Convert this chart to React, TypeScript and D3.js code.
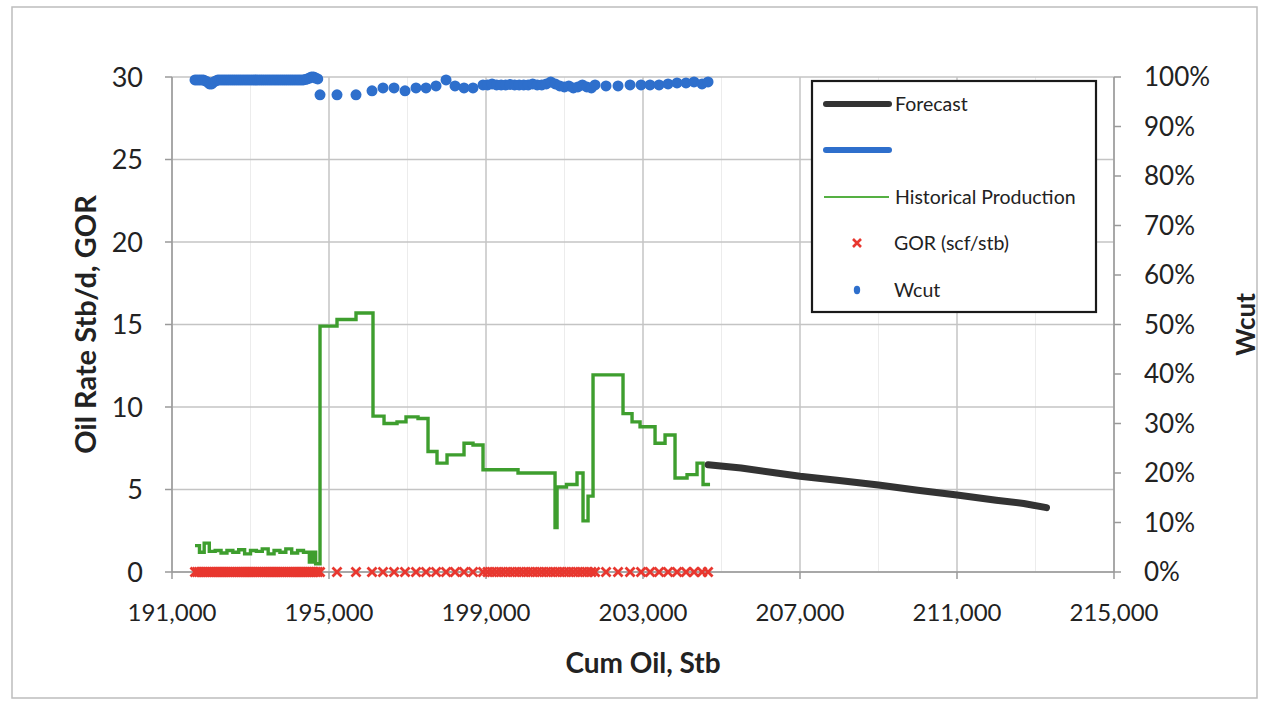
import React from "react";
import * as d3 from "d3";

// ---------- data ----------
const xTicks = [191000, 195000, 199000, 203000, 207000, 211000, 215000];
const yTicks = [0, 5, 10, 15, 20, 25, 30];
const y2Ticks = [0, 0.1, 0.2, 0.3, 0.4, 0.5, 0.6, 0.7, 0.8, 0.9, 1.0];

// Historical production (step line)
const histCum = [
  191586, 191700, 191820, 191950, 192100, 192250, 192400, 192550, 192700, 192850,
  193000, 193150, 193300, 193450, 193600, 193750, 193900, 194050, 194200, 194350,
  194500, 194580, 194660, 194771, 195204, 195688, 196121, 196402, 196733, 196962,
  197268, 197523, 197752, 198007, 198440, 198669, 198924, 199816, 200759, 200810,
  201050, 201319, 201472, 201600, 201727, 202491, 202721, 202925, 203307, 203562,
  203816, 204122, 204377, 204530, 204708,
];
const histRate = [
  1.6, 1.2, 1.75, 1.25, 1.3, 1.15, 1.3, 1.2, 1.35, 1.1,
  1.3, 1.25, 1.4, 1.1, 1.3, 1.2, 1.4, 1.15, 1.3, 1.2,
  0.6, 1.2, 0.5, 14.9, 15.3, 15.7, 9.45, 9.0, 9.1, 9.4,
  9.3, 7.3, 6.6, 7.1, 7.8, 7.7, 6.2, 6.0, 2.7, 5.15,
  5.3, 6.0, 3.1, 4.6, 11.95, 9.6, 9.1, 8.8, 7.8, 8.3,
  5.7, 5.9, 6.6, 5.3, 5.3,
];

// Forecast
const fcCum = [204660, 205500, 206400, 207000, 208000, 209000, 210000, 211000, 212000, 212700, 213280];
const fcRate = [6.5, 6.3, 6.0, 5.8, 5.55, 5.27, 4.95, 4.67, 4.35, 4.15, 3.9];

// Sample points for Wcut and GOR
const sampleCum = [
  191586, 191639, 191692, 191745, 191798, 191851, 191904, 191957, 192010, 192063,
  192116, 192169, 192222, 192275, 192328, 192381, 192434, 192487, 192540, 192593,
  192646, 192699, 192752, 192805, 192858, 192911, 192964, 193017, 193070, 193123,
  193176, 193229, 193282, 193335, 193388, 193441, 193494, 193547, 193600, 193653,
  193706, 193759, 193812, 193865, 193918, 193971, 194024, 194077, 194130, 194183,
  194236, 194289, 194342, 194395, 194448, 194501, 194554, 194607, 194660, 194713,
  194771, 195204, 195688, 196096, 196376, 196657, 196937, 197217, 197472, 197727,
  197982, 198211, 198440, 198669,
  198924, 199040, 199155, 199270, 199385, 199500, 199615, 199730, 199845, 199960,
  200075, 200190, 200305, 200420, 200535, 200650, 200765, 200880, 200995, 201110,
  201225, 201340, 201455, 201570, 201685, 201778,
  202058, 202364, 202670, 202950, 203179, 203409, 203638, 203867, 204096, 204300,
  204504, 204657,
];
const wcut = [
  0.994, 0.994, 0.994, 0.994, 0.994, 0.992, 0.99, 0.986, 0.986, 0.99,
  0.992, 0.994, 0.994, 0.994, 0.994, 0.994, 0.994, 0.994, 0.994, 0.994,
  0.994, 0.994, 0.994, 0.994, 0.994, 0.994, 0.994, 0.994, 0.994, 0.994,
  0.994, 0.994, 0.994, 0.994, 0.994, 0.994, 0.994, 0.994, 0.994, 0.994,
  0.994, 0.994, 0.994, 0.994, 0.994, 0.994, 0.994, 0.994, 0.994, 0.994,
  0.994, 0.994, 0.994, 0.995, 0.996, 0.998, 1.0, 1.0, 0.998, 0.996,
  0.964, 0.964, 0.964, 0.972, 0.978, 0.978, 0.972, 0.978, 0.978, 0.982,
  0.994, 0.982, 0.978, 0.978,
  0.984, 0.984, 0.986, 0.984, 0.984, 0.984, 0.985, 0.984, 0.984, 0.984,
  0.984, 0.986, 0.984, 0.984, 0.986, 0.99, 0.986, 0.982, 0.98, 0.982,
  0.978, 0.98, 0.984, 0.98, 0.978, 0.984,
  0.982, 0.982, 0.984, 0.984, 0.984, 0.984, 0.986, 0.988, 0.988, 0.99,
  0.986, 0.99,
];
const gor = [
  0, 0, 0, 0, 0, 0, 0, 0, 0, 0,
  0, 0, 0, 0, 0, 0, 0, 0, 0, 0,
  0, 0, 0, 0, 0, 0, 0, 0, 0, 0,
  0, 0, 0, 0, 0, 0, 0, 0, 0, 0,
  0, 0, 0, 0, 0, 0, 0, 0, 0, 0,
  0, 0, 0, 0, 0, 0, 0, 0, 0, 0,
  0, 0, 0, 0, 0, 0, 0, 0, 0, 0,
  0, 0, 0, 0,
  0, 0, 0, 0, 0, 0, 0, 0, 0, 0,
  0, 0, 0, 0, 0, 0, 0, 0, 0, 0,
  0, 0, 0, 0, 0, 0,
  0, 0, 0, 0, 0, 0, 0, 0, 0, 0,
  0, 0,
];

const legendItems = ["Forecast", "", "Historical Production", "GOR (scf/stb)", "Wcut"];

// ---------- styles ----------
const W = 1263, H = 704;
const M = { left: 172, right: 1114, top: 77, bottom: 572 };
const FONT = "Lato, 'Open Sans', sans-serif";
const GREEN = "#3e9e2e";
const BLUE = "#2e6fcc";
const RED = "#e8372f";
const DARK = "#333333";
const TXT = "#222222";

export default function App() {
  const x = d3.scaleLinear().domain([191000, 215000]).range([M.left, M.right]);
  const y = d3.scaleLinear().domain([0, 30]).range([M.bottom, M.top]);
  const y2 = d3.scaleLinear().domain([0, 1]).range([M.bottom, M.top]);

  const histPts: [number, number][] = histCum.map((c, i) => [c, histRate[i]]);
  const fcPts: [number, number][] = fcCum.map((c, i) => [c, fcRate[i]]);

  const stepLine = d3
    .line<[number, number]>()
    .x((d) => x(d[0]))
    .y((d) => y(d[1]))
    .curve(d3.curveStepAfter);
  const fcLine = d3
    .line<[number, number]>()
    .x((d) => x(d[0]))
    .y((d) => y(d[1]));

  const minorX = d3.range(193000, 215000, 4000);

  const lg = { x: 812, y: 81, w: 284, h: 231 };
  const rowY = [104, 150, 197, 243, 290];
  const n = Math.min(sampleCum.length, wcut.length, gor.length);
  const idx = d3.range(n);

  return (
    <svg
      width={W}
      height={H}
      style={{ position: "absolute", left: 0, top: 0, background: "#fff" }}
      fontFamily={FONT}
    >
      <rect x={0} y={0} width={W} height={H} fill="#fff" />
      <rect x={12} y={7} width={1245} height={691} fill="none" stroke="#bdbdbd" strokeWidth={1.5} />

      {/* minor vertical grid */}
      {minorX.map((v) => (
        <line key={"mx" + v} x1={x(v)} x2={x(v)} y1={M.top} y2={M.bottom} stroke="#ececec" strokeWidth={1} />
      ))}
      {/* major grid */}
      {yTicks.map((v) => (
        <line key={"gy" + v} x1={M.left} x2={M.right} y1={y(v)} y2={y(v)} stroke="#c4c4c4" strokeWidth={1.5} />
      ))}
      {xTicks.map((v) => (
        <line key={"gx" + v} x1={x(v)} x2={x(v)} y1={M.top} y2={M.bottom} stroke="#c4c4c4" strokeWidth={1.5} />
      ))}

      {/* axes */}
      <line x1={M.left} x2={M.left} y1={M.top} y2={M.bottom} stroke="#9a9a9a" strokeWidth={1.5} />
      <line x1={M.right} x2={M.right} y1={M.top} y2={M.bottom} stroke="#9a9a9a" strokeWidth={1.5} />
      <line x1={M.left} x2={M.right} y1={M.bottom} y2={M.bottom} stroke="#9a9a9a" strokeWidth={1.5} />
      {yTicks.map((v) => (
        <line key={"ty" + v} x1={M.left - 7} x2={M.left} y1={y(v)} y2={y(v)} stroke="#9a9a9a" strokeWidth={1.5} />
      ))}
      {y2Ticks.map((v) => (
        <line key={"ty2" + v} x1={M.right} x2={M.right + 7} y1={y2(v)} y2={y2(v)} stroke="#9a9a9a" strokeWidth={1.5} />
      ))}
      {xTicks.map((v) => (
        <line key={"tx" + v} x1={x(v)} x2={x(v)} y1={M.bottom} y2={M.bottom + 7} stroke="#9a9a9a" strokeWidth={1.5} />
      ))}

      {/* tick labels */}
      {yTicks.map((v) => (
        <text key={"ly" + v} x={143} y={y(v)} dy="0.36em" textAnchor="end" fontSize={27} fill={TXT}>
          {v}
        </text>
      ))}
      {y2Ticks.map((v) => (
        <text key={"ly2" + v} x={1144} y={y2(v)} dy="0.36em" textAnchor="start" fontSize={26} fill={TXT}>
          {d3.format(".0%")(v)}
        </text>
      ))}
      {xTicks.map((v) => (
        <text key={"lx" + v} x={x(v)} y={621} textAnchor="middle" fontSize={24} fill={TXT}>
          {d3.format(",")(v)}
        </text>
      ))}

      {/* axis titles */}
      <text x={(M.left + M.right) / 2} y={673} textAnchor="middle" fontSize={28} fontWeight="bold" fill={TXT}>
        Cum Oil, Stb
      </text>
      <text
        transform={`translate(96, ${(M.top + M.bottom) / 2}) rotate(-90)`}
        textAnchor="middle"
        fontSize={29}
        fontWeight="bold"
        fill={TXT}
      >
        Oil Rate Stb/d, GOR
      </text>
      <text
        transform={`translate(1255, ${(M.top + M.bottom) / 2}) rotate(-90)`}
        textAnchor="middle"
        fontSize={26}
        fontWeight="bold"
        fill={TXT}
      >
        Wcut
      </text>

      {/* GOR markers */}
      {idx.map((i) => (
        <path
          key={"g" + i}
          transform={`translate(${x(sampleCum[i])}, ${y(gor[i])})`}
          d="M-4.5,-4.5L4.5,4.5M-4.5,4.5L4.5,-4.5"
          stroke={RED}
          strokeWidth={2.8}
          fill="none"
        />
      ))}

      {/* Historical production */}
      <path d={stepLine(histPts) || ""} fill="none" stroke={GREEN} strokeWidth={3.4} strokeLinejoin="miter" />

      {/* Forecast */}
      <path d={fcLine(fcPts) || ""} fill="none" stroke={DARK} strokeWidth={7} strokeLinecap="round" strokeLinejoin="round" />

      {/* Wcut markers */}
      {idx.map((i) => (
        <circle key={"w" + i} cx={x(sampleCum[i])} cy={y2(wcut[i])} r={5.5} fill={BLUE} />
      ))}

      {/* legend */}
      <rect x={lg.x} y={lg.y} width={lg.w} height={lg.h} fill="#fff" stroke="#1a1a1a" strokeWidth={2.2} />
      <line x1={826} x2={889} y1={rowY[0]} y2={rowY[0]} stroke={DARK} strokeWidth={6} strokeLinecap="round" />
      <line x1={826} x2={889} y1={rowY[1]} y2={rowY[1]} stroke={BLUE} strokeWidth={6} strokeLinecap="round" />
      <line x1={824} x2={889} y1={rowY[2]} y2={rowY[2]} stroke="#55b043" strokeWidth={2.2} />
      <path
        transform={`translate(857, ${rowY[3]})`}
        d="M-4,-4L4,4M-4,4L4,-4"
        stroke={RED}
        strokeWidth={2.6}
        fill="none"
      />
      <ellipse cx={857} cy={rowY[4]} rx={3.2} ry={4.2} fill={BLUE} />
      {legendItems.map((t, i) =>
        t ? (
          <text key={"lt" + i} x={i < 3 ? 895 : 894} y={rowY[i]} dy="0.36em" fontSize={19.5} fill={TXT}>
            {t}
          </text>
        ) : null
      )}
    </svg>
  );
}
